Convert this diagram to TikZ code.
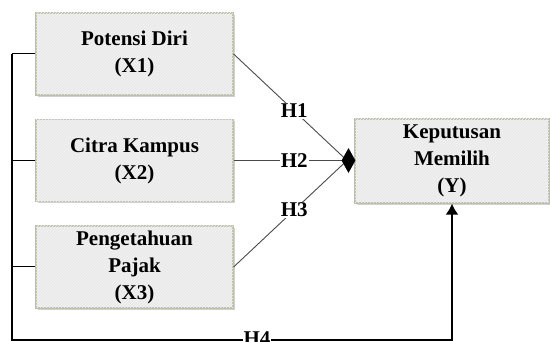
\documentclass[tikz,border=0pt]{standalone}
\usepackage{fontspec}
\setmainfont{Liberation Serif}
\usetikzlibrary{shapes.geometric,arrows.meta,shadows,patterns}
\definecolor{boxfill}{HTML}{EAEAEA}
\definecolor{boxhatch}{HTML}{F3F3F3}
\definecolor{boxline}{HTML}{BCC0AA}
\definecolor{thinline}{HTML}{4A4A4A}
\newcommand\txtfont{\bfseries\fontsize{21}{27}\selectfont}
\begin{document}
\begin{tikzpicture}[x=1pt,y=-1pt,
  box/.style={draw=boxline, line width=1.2pt, fill=boxfill,
    postaction={pattern=north east lines, pattern color=boxhatch},
    minimum width=197pt, minimum height=82pt, align=center, font=\txtfont,
    inner sep=0pt,
    drop shadow={shadow xshift=1.5pt, shadow yshift=-2pt, fill=black, opacity=0.18}},
  lbl/.style={fill=white, inner sep=1pt, font=\txtfont},
  thinln/.style={draw=thinline, line width=0.9pt},
  framel/.style={draw=black, line width=2pt},
  stub/.style={draw=black, line width=1pt}]
\useasboundingbox (0,0) rectangle (550,342);

\node[box] (x1) at (134.5,54) {Potensi Diri\\(X1)};
\node[box] (x2) at (134.5,160.5) {Citra Kampus\\(X2)};
\node[box] (x3) at (134.5,267) {Pengetahuan\\Pajak\\(X3)};
\node[box, minimum width=194pt, minimum height=84pt] (y) at (452,161) {Keputusan\\Memilih\\(Y)};

\coordinate (jn) at (347,160.5);
\draw[thinln] (x1.east) -- node[lbl,pos=0.535]{H1} (jn);
\draw[thinln, line width=1.4pt] (x2.east) -- node[lbl,pos=0.535]{H2} (jn);
\draw[thinln] (x3.east) -- node[lbl,pos=0.535]{H3} (jn);
\node[diamond, fill=black, minimum width=14pt, minimum height=25pt, inner sep=0pt] (tip) at (348.5,160.5) {};

\coordinate (c1) at (12,54);
\coordinate (cb) at (12,340);
\draw[stub] (x1.west) -- (c1);
\draw[stub] (x2.west) -- (x2.west -| c1);
\draw[stub] (x3.west) -- (x3.west -| c1);
\draw[framel, -{Latex[length=11pt,width=13pt]}] (c1) -- (cb) -| (y.south);
\node[lbl, anchor=base] (h4) at (257,346) {H4};
\end{tikzpicture}
\end{document}
